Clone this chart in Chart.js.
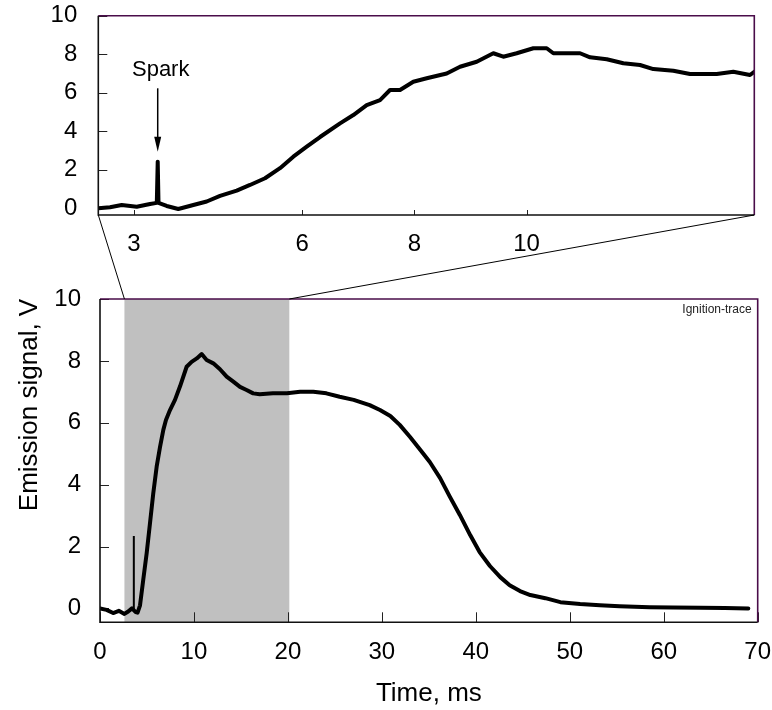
<!DOCTYPE html>
<html>
<head>
<meta charset="utf-8">
<script src="https://cdn.jsdelivr.net/npm/chart.js@4.4.1/dist/chart.umd.min.js"></script>
<style>
html,body{margin:0;padding:0;background:#fff;}
#wrap{position:relative;width:772px;height:710px;overflow:hidden;}
canvas{position:absolute;left:0;top:0;}
</style>
</head>
<body>
<div id="wrap">
<canvas id="topCanvas" width="772" height="710"></canvas>
<canvas id="bottomCanvas" width="772" height="710"></canvas>
</div>
<script>
// ---------- DATA ----------
// Full trace (bottom panel)
const bottomTime = [0, 0.7, 1.4, 2.0, 2.6, 3.0, 3.4, 3.8, 4.0, 4.26, 4.6, 4.97, 5.32, 5.67, 6.03, 6.39, 6.74, 7.02, 7.45, 7.98,
  8.51, 9.22, 9.75, 10.3, 10.82, 11.35, 12.06, 12.77, 13.48, 14.19, 14.9, 15.6, 16.3, 17.0, 18.4, 19.9, 21.3, 22.7, 24.1, 25.5,
  27.0, 28.7, 29.8, 30.9, 31.9, 33.0, 34.1, 35.1, 36.2, 37.2, 38.3, 39.4, 40.4, 41.5, 42.6, 43.6, 44.7, 45.8, 47.4, 49.0,
  51.1, 53.2, 55.3, 58.5, 61.0, 63.9, 66.5, 69.0];
const bottomSignal = [0, -0.05, -0.15, -0.08, -0.18, -0.1, 0.0, -0.12, -0.14, 0.1, 0.92, 1.79, 2.75, 3.72, 4.58, 5.22, 5.77, 6.09, 6.41, 6.74,
  7.17, 7.81, 7.97, 8.08, 8.22, 8.03, 7.92, 7.73, 7.49, 7.33, 7.16, 7.06, 6.95, 6.92, 6.95, 6.95, 7.0, 7.0, 6.95, 6.84,
  6.74, 6.57, 6.41, 6.22, 5.93, 5.54, 5.12, 4.73, 4.21, 3.63, 3.02, 2.37, 1.82, 1.37, 1.01, 0.75, 0.56, 0.43, 0.33, 0.2,
  0.14, 0.1, 0.07, 0.04, 0.03, 0.02, 0.01, 0.0];
// Spark spike in the full trace
const bottomSparkTime = [3.6, 3.6];
const bottomSparkSignal = [-0.05, 2.34];

// Zoomed trace (top panel)
const topTime = [2.367, 2.576, 2.784, 3.052, 3.289, 3.41, 3.426, 3.44, 3.586, 3.793, 4.061, 4.299, 4.537, 4.834, 5.071, 5.339, 5.606, 5.843, 6.082, 6.319,
  6.676, 6.913, 7.151, 7.389, 7.567, 7.745, 7.982, 8.221, 8.577, 8.815, 9.112, 9.408, 9.586, 9.825, 10.121, 10.36, 10.478, 10.717, 10.954, 11.132,
  11.43, 11.726, 12.023, 12.26, 12.617, 12.914, 13.39, 13.686, 13.983, 14.06];
const topSignal = [0, 0.05, 0.17, 0.08, 0.22, 0.28, 2.42, 0.28, 0.12, -0.04, 0.17, 0.35, 0.64, 0.92, 1.21, 1.56, 2.08, 2.68, 3.2, 3.7,
  4.41, 4.84, 5.36, 5.62, 6.14, 6.14, 6.57, 6.75, 7.0, 7.35, 7.61, 8.05, 7.87, 8.05, 8.31, 8.31, 8.05, 8.05, 8.05, 7.84,
  7.74, 7.53, 7.44, 7.23, 7.14, 6.97, 6.97, 7.09, 6.92, 7.09];

// Ticks
const bottomXTicks = [0, 10, 20, 30, 40, 50, 60, 70];
const yTicks = [0, 2, 4, 6, 8, 10];
const topXTicks = [3, 6, 8, 10];

// Zoomed window (shaded) and annotation
const zoomWindow = [2.6, 20.15];
const sparkTime = 3.426;
const sparkArrow = [6.23, 2.94];
const sparkLabelValue = 6.88;
const seriesLabel = 'Ignition-trace';
const xTitle = 'Time, ms';
const yTitle = 'Emission signal, V';

// ---------- STYLE ----------
const FONT = "'Liberation Sans', Arial, Helvetica, sans-serif";
const PURPLE = '#4a0d4a';

function pts(xs, ys) { return xs.map((x, i) => ({ x: x, y: ys[i] })); }
function noPad(s) { s.paddingTop = 0; s.paddingBottom = 0; s.paddingLeft = 0; s.paddingRight = 0; }

function framePlugin(tickLenX, tickLenY, shade) {
  return {
    id: 'frame',
    beforeDatasetsDraw(chart) {
      const a = chart.chartArea, ctx = chart.ctx;
      ctx.save();
      if (shade) {
        const xs = chart.scales.x;
        const x0 = xs.getPixelForValue(zoomWindow[0]);
        const x1 = xs.getPixelForValue(zoomWindow[1]);
        ctx.fillStyle = '#c0c0c0';
        ctx.fillRect(x0, a.top, x1 - x0, a.bottom - a.top);
      }
      ctx.strokeStyle = '#222';
      ctx.lineWidth = 1;
      ctx.beginPath();
      chart.scales.x.ticks.forEach(t => {
        const px = Math.round(chart.scales.x.getPixelForValue(t.value)) + 0.5;
        ctx.moveTo(px, a.bottom);
        ctx.lineTo(px, a.bottom - tickLenX);
      });
      chart.scales.y.ticks.forEach(t => {
        const py = Math.round(chart.scales.y.getPixelForValue(t.value)) + 0.5;
        ctx.moveTo(a.left, py);
        ctx.lineTo(a.left + tickLenY, py);
      });
      ctx.stroke();
      ctx.restore();
    },
    afterDatasetsDraw(chart) {
      const a = chart.chartArea, ctx = chart.ctx;
      ctx.save();
      ctx.lineWidth = 1.6;
      ctx.strokeStyle = PURPLE;
      ctx.beginPath();
      ctx.moveTo(a.left, a.top); ctx.lineTo(a.right, a.top); ctx.lineTo(a.right, a.bottom);
      ctx.stroke();
      ctx.strokeStyle = '#111';
      ctx.beginPath();
      ctx.moveTo(a.left, a.top); ctx.lineTo(a.left, a.bottom); ctx.lineTo(a.right, a.bottom);
      ctx.stroke();
      ctx.restore();
    }
  };
}

const sparkPlugin = {
  id: 'spark',
  afterDatasetsDraw(chart) {
    const ctx = chart.ctx, xs = chart.scales.x, ys = chart.scales.y;
    const x = xs.getPixelForValue(sparkTime);
    const y1 = ys.getPixelForValue(sparkArrow[0]);
    const y2 = ys.getPixelForValue(sparkArrow[1]);
    ctx.save();
    ctx.strokeStyle = '#000'; ctx.fillStyle = '#000';
    ctx.lineWidth = 1.5;
    ctx.beginPath(); ctx.moveTo(x, y1); ctx.lineTo(x, y2 - 12); ctx.stroke();
    ctx.beginPath(); ctx.moveTo(x - 3.5, y2 - 15); ctx.lineTo(x + 3.5, y2 - 15); ctx.lineTo(x, y2); ctx.closePath(); ctx.fill();
    ctx.font = '22px ' + FONT;
    ctx.textAlign = 'center'; ctx.textBaseline = 'alphabetic';
    ctx.fillText('Spark', x + 3, ys.getPixelForValue(sparkLabelValue));
    ctx.restore();
  }
};

const topChart = new Chart(document.getElementById('topCanvas'), {
  type: 'line',
  data: {
    datasets: [{
      label: seriesLabel,
      data: pts(topTime, topSignal),
      borderColor: '#000', borderWidth: 4, pointRadius: 0, tension: 0,
      borderJoinStyle: 'round', borderCapStyle: 'round', fill: false
    }]
  },
  options: {
    responsive: false, animation: false, devicePixelRatio: 1,
    layout: { padding: { top: 15.7, right: 17.7, left: 0, bottom: 0 } },
    plugins: { legend: { display: false }, tooltip: { enabled: false } },
    scales: {
      x: {
        type: 'linear', min: 2.367, max: 14.06,
        grid: { display: false, drawTicks: false }, border: { display: false },
        afterBuildTicks: s => { s.ticks = topXTicks.map(v => ({ value: v })); },
        afterFit: s => { s.height = 710 - 215; noPad(s); },
        ticks: { font: { family: FONT, size: 24 }, color: '#000', padding: 15, maxRotation: 0, autoSkip: false }
      },
      y: {
        type: 'linear', min: -0.35, max: 10,
        grid: { display: false, drawTicks: false }, border: { display: false },
        afterBuildTicks: s => { s.ticks = yTicks.map(v => ({ value: v })); },
        afterFit: s => { s.width = 98.3; noPad(s); },
        ticks: { font: { family: FONT, size: 24 }, color: '#000', padding: 21, autoSkip: false }
      }
    }
  },
  plugins: [framePlugin(5, 9, false), sparkPlugin]
});

const overlayPlugin = {
  id: 'overlay',
  afterDraw(chart) {
    const ctx = chart.ctx, a = chart.chartArea, xs = chart.scales.x;
    const ta = topChart.chartArea;
    ctx.save();
    // connector lines from zoomed panel to shaded window
    ctx.strokeStyle = '#000'; ctx.lineWidth = 1;
    ctx.beginPath();
    ctx.moveTo(ta.left, ta.bottom); ctx.lineTo(xs.getPixelForValue(zoomWindow[0]), a.top);
    ctx.moveTo(ta.right, ta.bottom); ctx.lineTo(xs.getPixelForValue(zoomWindow[1]), a.top);
    ctx.stroke();
    // series label
    ctx.fillStyle = '#222';
    ctx.font = '12px ' + FONT;
    ctx.textAlign = 'right'; ctx.textBaseline = 'middle';
    ctx.fillText(chart.data.datasets[0].label, a.right - 6, a.top + 11);
    // axis titles
    ctx.fillStyle = '#000';
    ctx.font = '26px ' + FONT;
    ctx.textAlign = 'center'; ctx.textBaseline = 'alphabetic';
    ctx.fillText(xTitle, (a.left + a.right) / 2, 701);
    ctx.translate(37, 405);
    ctx.rotate(-Math.PI / 2);
    ctx.fillText(yTitle, 0, 0);
    ctx.restore();
  }
};

const bottomChart = new Chart(document.getElementById('bottomCanvas'), {
  type: 'line',
  data: {
    datasets: [{
      label: seriesLabel,
      data: pts(bottomTime, bottomSignal),
      borderColor: '#000', borderWidth: 4, pointRadius: 0, tension: 0,
      borderJoinStyle: 'round', borderCapStyle: 'round', fill: false
    }, {
      label: 'spark',
      data: pts(bottomSparkTime, bottomSparkSignal),
      borderColor: '#000', borderWidth: 2, pointRadius: 0, tension: 0, fill: false
    }]
  },
  options: {
    responsive: false, animation: false, devicePixelRatio: 1,
    layout: { padding: { top: 299, right: 14.3, left: 0, bottom: 0 } },
    plugins: { legend: { display: false }, tooltip: { enabled: false } },
    scales: {
      x: {
        type: 'linear', min: 0, max: 70,
        grid: { display: false, drawTicks: false }, border: { display: false },
        afterBuildTicks: s => { s.ticks = bottomXTicks.map(v => ({ value: v })); },
        afterFit: s => { s.height = 710 - 622.3; noPad(s); },
        ticks: { font: { family: FONT, size: 24 }, color: '#000', padding: 16, maxRotation: 0, autoSkip: false }
      },
      y: {
        type: 'linear', min: -0.45, max: 10,
        grid: { display: false, drawTicks: false }, border: { display: false },
        afterBuildTicks: s => { s.ticks = yTicks.map(v => ({ value: v })); },
        afterFit: s => { s.width = 100; noPad(s); },
        ticks: { font: { family: FONT, size: 24 }, color: '#000', padding: 19, autoSkip: false }
      }
    }
  },
  plugins: [framePlugin(10, 9, true), overlayPlugin]
});
</script>
</body>
</html>
